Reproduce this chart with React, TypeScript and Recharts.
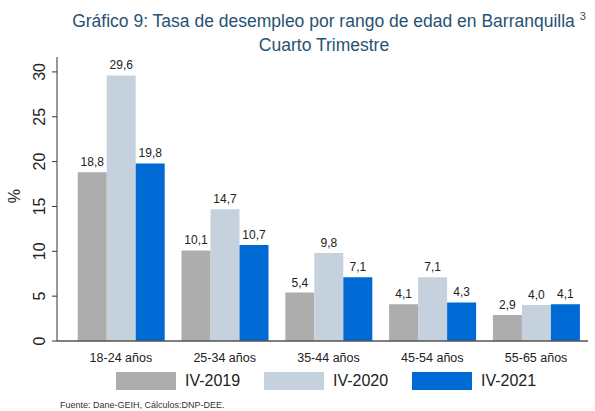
import React from 'react';
import { BarChart, Bar, XAxis, YAxis, LabelList } from 'recharts';

document.body.style.margin = '0';

const ageGroups = ['18-24 años', '25-34 años', '35-44 años', '45-54 años', '55-65 años'];
const iv2019 = [18.8, 10.1, 5.4, 4.1, 2.9];
const iv2020 = [29.6, 14.7, 9.8, 7.1, 4.0];
const iv2021 = [19.8, 10.7, 7.1, 4.3, 4.1];
const yTicks = [0, 5, 10, 15, 20, 25, 30];

const series = [
  { key: 'IV-2019', values: iv2019, color: '#ADADAD' },
  { key: 'IV-2020', values: iv2020, color: '#C5D2DE' },
  { key: 'IV-2021', values: iv2021, color: '#006AD4' },
];

const data = ageGroups.map((name, i) => {
  const row: Record<string, string | number> = { name };
  series.forEach(s => { row[s.key] = s.values[i]; });
  return row;
});

const font = '"Liberation Sans", Arial, sans-serif';
const titleColor = '#275273';

const fmt = (v: number) => v.toFixed(1).replace('.', ',');

function RotatedTick({ x, y, payload }: { x: number; y: number; payload: { value: number } }) {
  const tx = x - 5;
  return (
    <text x={tx} y={y} transform={`rotate(-90 ${tx} ${y})`} textAnchor="middle"
      fontSize={16} fill="#222" fontFamily={font}>
      {payload.value}
    </text>
  );
}

export default function App() {
  return (
    <div style={{ position: 'relative', width: 595, height: 411, background: '#fff', fontFamily: font }}>
      <div style={{ position: 'absolute', top: 10, left: 0, width: 658, textAlign: 'center', fontSize: 17.5, color: titleColor, whiteSpace: 'nowrap' }}>
        Gráfico 9: Tasa de desempleo por rango de edad en Barranquilla <sup style={{ fontSize: 11 }}>3</sup>
      </div>
      <div style={{ position: 'absolute', top: 35, left: 0, width: 648, textAlign: 'center', fontSize: 17.5, color: titleColor }}>
        Cuarto Trimestre
      </div>
      <BarChart width={595} height={411} data={data}
        margin={{ top: 57, right: 7, bottom: 40, left: 0 }}
        barCategoryGap="8.4%" barGap={0}>
        <XAxis dataKey="name" height={30} axisLine={{ stroke: '#555', strokeWidth: 1.5 }} tickLine={false}
          tick={{ fontSize: 12.5, fill: '#222', fontFamily: font }} tickMargin={6}
          padding={{ left: 12, right: 0 }} />
        <YAxis domain={[0, 31.66]} ticks={yTicks} width={57} allowDataOverflow
          axisLine={{ stroke: '#333' }} tickLine={{ stroke: '#333' }} tickSize={5} tickMargin={2}
          tick={RotatedTick as any} />
        {series.map(s => (
          <Bar key={s.key} dataKey={s.key} fill={s.color} isAnimationActive={false}>
            <LabelList dataKey={s.key} position="top" offset={6} formatter={(v: any) => fmt(Number(v))}
              style={{ fontSize: 12, fill: '#222', fontFamily: font }} />
          </Bar>
        ))}
      </BarChart>
      <svg width={30} height={411} style={{ position: 'absolute', top: 0, left: 0 }}>
        <text x={20} y={196} transform="rotate(-90 20 196)" textAnchor="middle"
          fontSize={16} fill="#222" fontFamily={font}>%</text>
      </svg>
      {series.map((s, i) => (
        <div key={s.key} style={{ position: 'absolute', top: 372, left: 116 + i * 148, display: 'flex', alignItems: 'center' }}>
          <div style={{ width: 60, height: 18, background: s.color }} />
          <span style={{ marginLeft: 9, fontSize: 16, color: '#222' }}>{s.key}</span>
        </div>
      ))}
      <div style={{ position: 'absolute', top: 400, left: 60, fontSize: 9, color: '#333' }}>
        Fuente: Dane-GEIH, Cálculos:DNP-DEE.
      </div>
    </div>
  );
}
